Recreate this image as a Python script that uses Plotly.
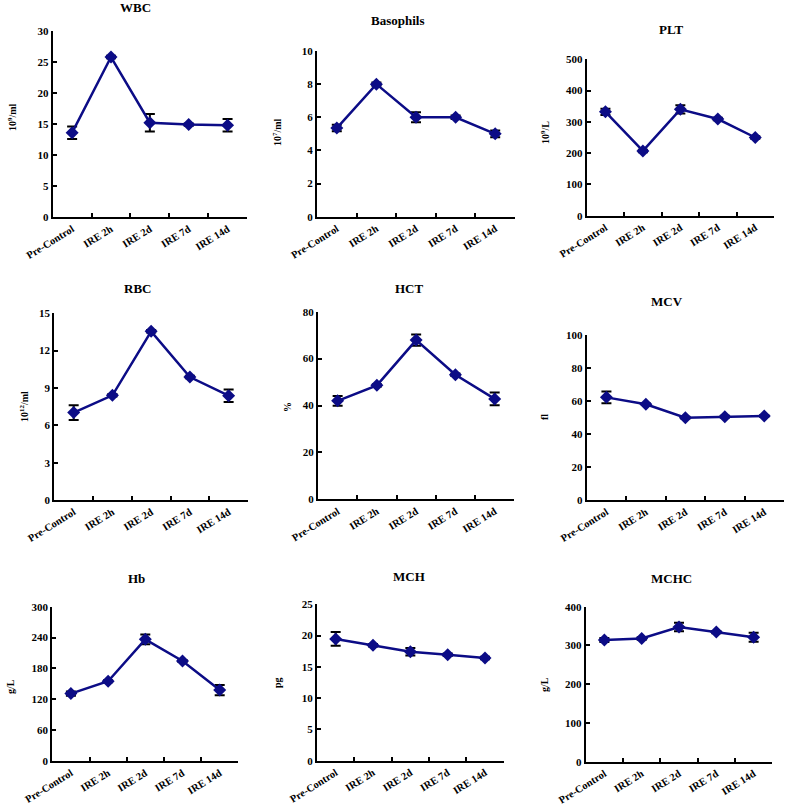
import plotly.graph_objects as go

categories = ["Pre-Control", "IRE 2h", "IRE 2d", "IRE 7d", "IRE 14d"]

titles = ["WBC", "Basophils", "PLT", "RBC", "HCT", "MCV", "Hb", "MCH", "MCHC"]
units = ["10<sup>9</sup>/ml", "10<sup>7</sup>/ml", "10<sup>9</sup>/L", "10<sup>12</sup>/ml", "%", "fl",
         "g/L", "pg", "g/L"]

wbc = [13.6, 25.8, 15.2, 14.9, 14.8]
wbc_err = [1.0, 0.2, 1.4, 0.2, 1.0]
baso = [5.35, 8.0, 6.0, 6.0, 5.0]
baso_err = [0.2, 0.1, 0.3, 0.1, 0.2]
plt_v = [332, 207, 340, 309, 250]
plt_err = [10, 4, 13, 4, 4]
rbc = [7.02, 8.41, 13.55, 9.88, 8.38]
rbc_err = [0.6, 0.1, 0.1, 0.1, 0.5]
hct = [42.0, 48.6, 67.9, 53.1, 42.8]
hct_err = [2.1, 0.5, 2.4, 0.5, 2.7]
mcv = [62.2, 58.0, 49.9, 50.5, 50.9]
mcv_err = [3.6, 0.5, 0.5, 0.5, 0.5]
hb = [131, 155, 236.5, 194.4, 138]
hb_err = [4, 2, 9.5, 2, 10]
mch = [19.46, 18.44, 17.43, 16.95, 16.42]
mch_err = [1.1, 0.2, 0.6, 0.2, 0.2]
mchc = [314, 318, 347.5, 334.6, 321]
mchc_err = [5, 3, 11, 3, 11.6]

values = [wbc, baso, plt_v, rbc, hct, mcv, hb, mch, mchc]
errors = [wbc_err, baso_err, plt_err, rbc_err, hct_err, mcv_err, hb_err, mch_err, mchc_err]
y_max = [30, 10, 500, 15, 80, 100, 300, 25, 400]
y_dtick = [5, 2, 100, 3, 20, 20, 60, 5, 100]

W, H = 787, 805
# axes boxes in pixels: (left, right, top, bottom)
boxes = [
    (52.7, 247, 31, 217), (317, 515, 51, 216.7), (586.7, 774, 59.3, 215.7),
    (54.3, 248, 313.3, 500), (318, 514.3, 311.7, 499.3), (586.7, 784, 335, 500),
    (52.3, 238.3, 606.7, 761), (317, 503.7, 604.3, 760.7), (585.7, 772.3, 606.7, 761.7),
]
title_pos = [(135, 8), (398, 20), (671, 29), (137, 288), (409, 288), (667, 301),
             (136, 578), (409, 576), (671, 578)]
ytitle_pos = [(12, 117), (277, 132), (545, 133), (24, 407), (287, 407), (544, 417),
              (10, 687), (277, 683), (544, 685)]

FONT = "Liberation Serif"
LINE = "#0c0c86"

fig = go.Figure()
layout = dict(
    width=W, height=H, margin=dict(l=0, r=0, t=0, b=0, autoexpand=False),
    paper_bgcolor="white", plot_bgcolor="white", showlegend=False,
    font=dict(family=FONT, color="black", size=10),
)
annotations = []
for i in range(9):
    n = "" if i == 0 else str(i + 1)
    l, r, t, b = boxes[i]
    fig.add_trace(go.Scatter(
        x=categories, y=values[i],
        xaxis="x" + n, yaxis="y" + n,
        mode="lines+markers",
        line=dict(color=LINE, width=2.5),
        marker=dict(symbol="diamond", size=10, color=LINE),
        error_y=dict(type="data", array=errors[i], color="black", thickness=2, width=5),
        cliponaxis=False,
    ))
    layout["xaxis" + n] = dict(
        domain=[l / W, r / W], anchor="y" + n, type="category", automargin=False,
        range=[-0.5, 4.5], tickson="boundaries", ticks="inside", ticklen=4,
        tickwidth=2, tickcolor="black", showline=True, linecolor="black", linewidth=2,
        showgrid=False, zeroline=False, tickangle=-32,
        tickfont=dict(family=FONT, size=10.5, color="black", weight="bold"),
    )
    layout["yaxis" + n] = dict(
        domain=[1 - b / H, 1 - t / H], anchor="x" + n, automargin=False,
        range=[0, y_max[i]], dtick=y_dtick[i], tick0=0,
        ticks="inside", ticklen=4, tickwidth=2, tickcolor="black",
        showline=True, linecolor="black", linewidth=2, showgrid=False, zeroline=False,
        tickfont=dict(family=FONT, size=11, color="black", weight="bold"),
    )
    tx, ty = title_pos[i]
    annotations.append(dict(
        text="<b>" + titles[i] + "</b>", x=tx / W, y=1 - ty / H, xref="paper", yref="paper",
        showarrow=False, xanchor="center", yanchor="middle",
        font=dict(family=FONT, size=13, color="black"),
    ))
    ux, uy = ytitle_pos[i]
    annotations.append(dict(
        text="<b>" + units[i] + "</b>", x=ux / W, y=1 - uy / H, xref="paper", yref="paper",
        showarrow=False, xanchor="center", yanchor="middle", textangle=-90,
        font=dict(family=FONT, size=10, color="black"),
    ))
layout["annotations"] = annotations
fig.update_layout(**layout)
fig.write_html("out.html", config={"displayModeBar": False},
               post_script="document.body.style.margin='0';document.body.style.padding='0';")
